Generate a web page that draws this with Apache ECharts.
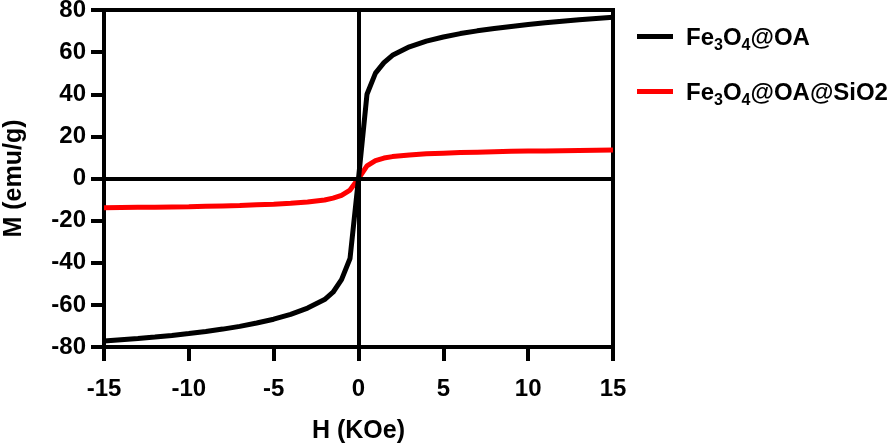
<!DOCTYPE html>
<html><head><meta charset="utf-8">
<script src="https://cdn.jsdelivr.net/npm/echarts@6/dist/echarts.min.js"></script>
<style>html,body{margin:0;padding:0;background:#fff}#c{width:896px;height:447px}</style>
</head><body><div id="c"></div>
<script>
var H = [-15,-14,-13,-12,-11,-10,-9,-8,-7,-6,-5,-4,-3,-2,-1.5,-1,-0.5,0,0.5,1,1.5,2,3,4,5,6,7,8,9,10,11,12,13,14,15];
var M_OA = [-77.2,-76.6,-76,-75.3,-74.5,-73.6,-72.6,-71.5,-70.2,-68.6,-66.8,-64.5,-61.5,-57.5,-54,-48,-38,0,40,50,55,58.5,62.5,65.2,67.2,68.8,70.1,71.2,72.2,73.1,73.9,74.7,75.4,76,76.6];
var M_SiO2 = [-13.9,-13.8,-13.7,-13.6,-13.5,-13.4,-13.2,-13,-12.8,-12.5,-12.2,-11.8,-11.2,-10.2,-9.3,-8,-5.5,0,6,8.5,9.7,10.4,11.2,11.7,12,12.3,12.5,12.7,12.9,13,13.1,13.2,13.3,13.4,13.5];
var xTicks = [-15,-10,-5,0,5,10,15];
var yTicks = [-80,-60,-40,-20,0,20,40,60,80];
var names = ['Fe3O4@OA','Fe3O4@OA@SiO2'];

function pairs(xs, ys){ return xs.map(function(x,i){return [x, ys[i]];}); }
var FONT = '"Liberation Sans", Arial, Helvetica, sans-serif';
var chart = echarts.init(document.getElementById('c'));
chart.setOption({
  animation:false,
  backgroundColor:'#fff',
  grid:{left:104,right:283,top:10,bottom:100,containLabel:false,outerBoundsMode:'none',
    show:true,borderColor:'#000',borderWidth:4,backgroundColor:'transparent'},
  legend:{
    orient:'vertical', left:632, top:21, itemWidth:36, itemHeight:5, itemGap:27,
    icon:'rect',
    data:[{name:names[0],itemStyle:{color:'#000'}},{name:names[1],itemStyle:{color:'#ff0000'}}],
    formatter:function(n){
      return n==='Fe3O4@OA' ? '{n|Fe}{s|3}{n|O}{s|4}{n|@OA}' : '{n|Fe}{s|3}{n|O}{s|4}{n|@OA@SiO2}';
    },
    textStyle:{padding:[0,0,0,8],rich:{
      n:{fontFamily:FONT,fontWeight:'bold',fontSize:24,color:'#000',lineHeight:27,verticalAlign:'bottom'},
      s:{fontFamily:FONT,fontWeight:'bold',fontSize:16,color:'#000',lineHeight:18,verticalAlign:'bottom',padding:[0,0,-4,0]}
    }}
  },
  xAxis:{type:'value',min:-15,max:15,interval:5,
    name:'H (KOe)',nameLocation:'middle',nameGap:72,
    nameTextStyle:{fontFamily:FONT,fontWeight:'bold',fontSize:25,color:'#000'},
    axisLine:{onZero:false,lineStyle:{color:'#000',width:4}},
    axisTick:{show:true,length:14,lineStyle:{color:'#000',width:4}},
    axisLabel:{margin:30,fontFamily:FONT,fontWeight:'bold',fontSize:24,color:'#000',
      customValues:xTicks},
    splitLine:{show:false}},
  yAxis:{type:'value',min:-80,max:80,interval:20,
    name:'M (emu/g)',nameLocation:'middle',nameGap:77,nameRotate:90,
    nameTextStyle:{fontFamily:FONT,fontWeight:'bold',fontSize:25,color:'#000'},
    axisLine:{onZero:false,lineStyle:{color:'#000',width:4}},
    axisTick:{show:true,length:13,lineStyle:{color:'#000',width:4}},
    axisLabel:{margin:18,fontFamily:FONT,fontWeight:'bold',fontSize:24,color:'#000',
      customValues:yTicks},
    splitLine:{show:false}},
  series:[
    {name:names[0],type:'line',data:pairs(H,M_OA),showSymbol:false,symbol:'none',
     lineStyle:{color:'#000',width:5},itemStyle:{color:'#000'},z:3,
     markLine:{silent:true,symbol:'none',label:{show:false},
       lineStyle:{color:'#000',width:4,type:'solid'},
       data:[{xAxis:0},{yAxis:0}]}},
    {name:names[1],type:'line',data:pairs(H,M_SiO2),showSymbol:false,symbol:'none',
     lineStyle:{color:'#ff0000',width:5},itemStyle:{color:'#ff0000'},z:2}
  ]
});
</script></body></html>
